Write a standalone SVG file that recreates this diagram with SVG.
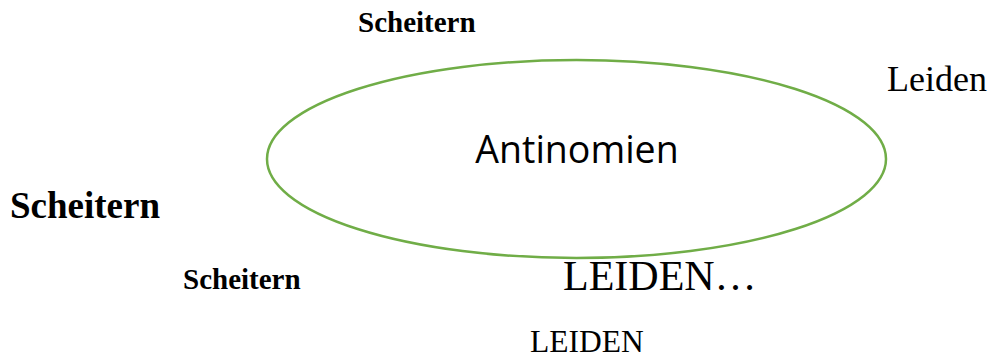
<svg xmlns="http://www.w3.org/2000/svg" width="991" height="358" viewBox="0 0 991 358">
<style>
.s{font-family:"Liberation Serif","Times New Roman",serif;fill:#000}
.b{font-weight:bold}
.o{font-family:"Open Sans","Noto Sans",sans-serif;fill:#000}
</style>
<rect width="991" height="358" fill="#fff"/>
<g id="connectors"></g>
<g id="antinomien">
<ellipse cx="576.5" cy="159" rx="309.5" ry="99" fill="none" stroke="#70AD47" stroke-width="2.5"/>
<text class="o" x="577" y="163" font-size="37.5" text-anchor="middle">Antinomien</text>
</g>
<g id="scheitern-top"><text class="s b" x="358" y="32" font-size="29">Scheitern</text></g>
<g id="leiden-right"><text class="s" x="887" y="91" font-size="36">Leiden</text></g>
<g id="scheitern-left"><text class="s b" x="10" y="218" font-size="37">Scheitern</text></g>
<g id="scheitern-bottom"><text class="s b" x="183" y="289" font-size="29">Scheitern</text></g>
<g id="leiden-dots"><text class="s" x="563" y="290" font-size="42">LEIDEN…</text></g>
<g id="leiden-bottom"><text class="s" x="530" y="352" font-size="31.5">LEIDEN</text></g>
</svg>
